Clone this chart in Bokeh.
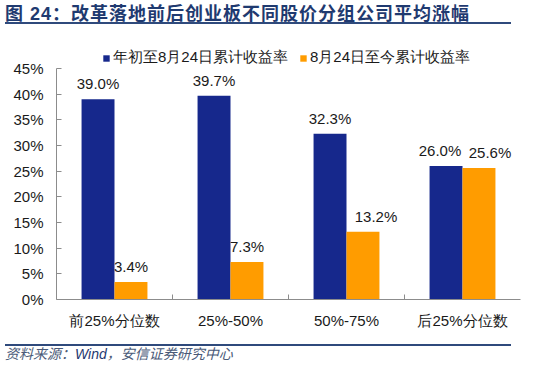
from bokeh.plotting import figure
from bokeh.models import (ColumnDataSource, Legend, LegendItem, LabelSet,
                          FixedTicker, PrintfTickFormatter, Div, Range1d)
from bokeh.core.properties import value
from bokeh.layouts import column
from bokeh.embed import file_html
from bokeh.resources import INLINE
from bokeh.transform import dodge

# ---------------- data ----------------
title_prefix = "图 24："
title_main = "改革落地前后创业板不同股价分组公司平均涨幅"
source_label = "资料来源："
source_vendor = "Wind"
source_rest = "，安信证券研究中心"
categories = ["前25%分位数", "25%-50%", "50%-75%", "后25%分位数"]
series_names = ["年初至8月24日累计收益率", "8月24日至今累计收益率"]
ytd_to_aug24 = [39.0, 39.7, 32.3, 26.0]
aug24_to_now = [3.4, 7.3, 13.2, 25.6]
y_ticks = [0, 5, 10, 15, 20, 25, 30, 35, 40, 45]

# ---------------- style ----------------
BLUE = "#16288c"
ORANGE = "#ff9c00"
LINE = "#2f4a7c"
FONT = "Liberation Sans"
BAR_W = 0.284
label_nudge_blue = [0, 0, 0, -6]
label_nudge_orange = [0, 0, 13, 11]
AXIS_MAX = y_ticks[-1]
Y_HEADROOM = AXIS_MAX * 263 / 231   # extra room above the axis for the legend

centers = [i + 0.5 for i in range(len(categories))]
boundaries = [i for i in range(1, len(categories))]

src = ColumnDataSource(dict(
    x=centers,
    a=ytd_to_aug24,
    b=aug24_to_now,
    at=[f"{v:.1f}%" for v in ytd_to_aug24],
    bt=[f"{v:.1f}%" for v in aug24_to_now],
    ax=label_nudge_blue,
    bx=label_nudge_orange,
))

p = figure(width=534, height=308, output_backend="svg", toolbar_location=None,
           x_range=Range1d(0, len(categories)), y_range=Range1d(0, Y_HEADROOM),
           min_border_left=56, min_border_right=14, min_border_top=5,
           min_border_bottom=40)
p.outline_line_color = None
p.grid.visible = False
p.background_fill_color = "white"
p.border_fill_color = "white"

r1 = p.vbar(x=dodge("x", -BAR_W / 2), top="a", width=BAR_W, source=src,
            fill_color=BLUE, line_color=None)
r2 = p.vbar(x=dodge("x", BAR_W / 2), top="b", width=BAR_W, source=src,
            fill_color=ORANGE, line_color=None)

for col, txt, xo in (("a", "at", "ax"), ("b", "bt", "bx")):
    off = -BAR_W / 2 if col == "a" else BAR_W / 2
    ls = LabelSet(x=dodge("x", off), y=col, text=txt, x_offset=xo, y_offset=7,
                  source=src, text_align="center", text_baseline="bottom",
                  text_font=value(FONT), text_font_size=value("15px"),
                  text_color="#1a1a1a")
    p.add_layout(ls)

# y axis
ya = p.yaxis[0]
ya.bounds = (0, AXIS_MAX)
ya.ticker = FixedTicker(ticks=y_ticks)
ya.formatter = PrintfTickFormatter(format="%d%%")
ya.major_tick_in = 5
ya.major_tick_out = 0
ya.minor_tick_line_color = None
ya.axis_line_color = "#8c8c8c"
ya.major_tick_line_color = "#8c8c8c"
ya.major_label_standoff = 13
ya.major_label_text_font = FONT
ya.major_label_text_font_size = "15px"
ya.major_label_text_color = "#1a1a1a"

# x axis
xa = p.xaxis[0]
xa.ticker = FixedTicker(ticks=centers, minor_ticks=boundaries)
xa.major_label_overrides = {c: n for c, n in zip(centers, categories)}
xa.major_tick_in = 0
xa.major_tick_out = 0
xa.minor_tick_in = 5
xa.minor_tick_out = 0
xa.minor_tick_line_color = "#8c8c8c"
xa.axis_line_color = "#8c8c8c"
xa.major_label_standoff = 12
xa.major_label_text_font = FONT
xa.major_label_text_font_size = "15px"
xa.major_label_text_color = "#1a1a1a"

legend = Legend(items=[LegendItem(label=series_names[0], renderers=[r1]),
                       LegendItem(label=series_names[1], renderers=[r2])],
                location=(46, 232), orientation="horizontal")
legend.padding = 0
legend.margin = 0
legend.spacing = 11
legend.label_standoff = 3
legend.glyph_width = 8
legend.glyph_height = 8
legend.label_height = 16
legend.label_text_font = FONT
legend.label_text_font_size = "15px"
legend.label_text_color = "#1a1a1a"
legend.border_line_color = None
legend.background_fill_alpha = 0
p.add_layout(legend)

title_div = Div(
    text=(f'<div style="width:506px;height:19px;border-bottom:2px solid {LINE};'
          f'font-family:\'Liberation Sans\',\'Noto Sans CJK SC\';font-weight:bold;'
          f'font-size:18px;line-height:19px;letter-spacing:1px;color:#1f3a70;'
          f'white-space:nowrap;">{title_prefix}{title_main}</div>'),
    width=506, height=21)

source_div = Div(
    text=(f'<div style="width:506px;border-top:2px solid {LINE};'
          f'font-family:\'Liberation Sans\',\'Noto Sans CJK SC\';font-style:italic;'
          f'font-size:14px;line-height:16px;color:#4a5a78;white-space:nowrap;">'
          f'{source_label}<span style="color:#1f3870;">{source_vendor}'
          f'</span>{source_rest}</div>'),
    width=506, height=18)

layout = column(title_div, p, source_div, spacing=0)

open("out.html", "w").write(file_html(layout, INLINE))
